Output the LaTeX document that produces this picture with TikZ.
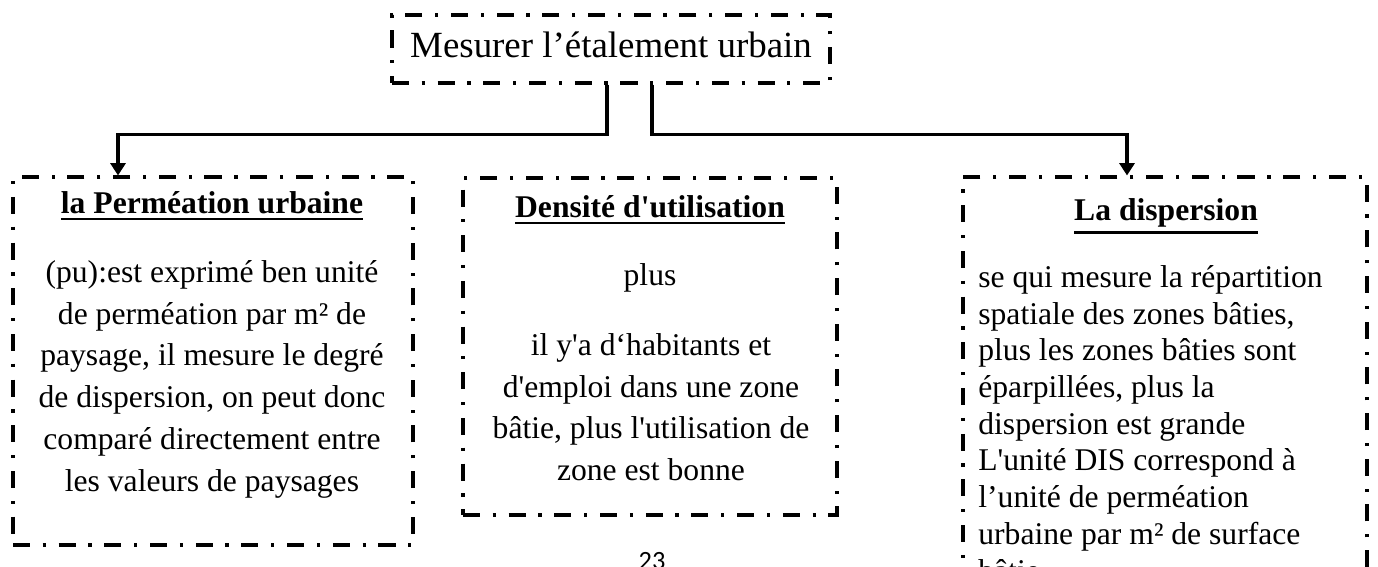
\documentclass[tikz,border=0pt]{standalone}
\usepackage{fontspec}
\setmainfont{Liberation Serif}
\newfontfamily\pagefont{Carlito}
\usepackage{tikz}
\usetikzlibrary{arrows.meta, positioning}
\tikzset{
  frame/.style={draw, line width=1.8pt,
                dash pattern=on 9.7pt off 7.2pt on 1.8pt off 7.3pt,
                inner sep=0pt},
  link/.style={draw, line width=1.8pt},
  arrowlink/.style={link, -{Triangle[length=7pt, width=8.5pt]}},
  heading/.style={font=\fontsize{18}{22}\selectfont\bfseries,
                  anchor=base, inner sep=0pt},
  bodytext/.style={font=\fontsize{18}{23.8}\selectfont, align=center,
                   anchor=north, inner sep=0pt},
}
\newcommand\headul[1]{\leavevmode\vtop{\hbox{#1}\kern2.5pt\hrule height 1.5pt}}
\newcommand\apos{\textquotesingle}

\begin{document}
\begin{tikzpicture}[x=0.02cm, y=-0.02cm]

  %% Page area
  \useasboundingbox (0,0) rectangle (1378,566);
  \fill[white] (0,0) rectangle (1378,566);
  \clip (0,0) rectangle (1378,566);

  %% Title box
  \node[frame, minimum width=8.76cm, minimum height=1.36cm, text depth=0.19cm,
        font=\fontsize{21}{25}\selectfont] (top) at (611,49)
        {Mesurer l’étalement urbain};

  %% Frames
  \node[frame, minimum width=8cm,    minimum height=7.36cm] (perm) at (213,361) {};
  \node[frame, minimum width=7.48cm, minimum height=6.74cm] (dens) at (650,346.5) {};
  \node[frame, minimum width=8.08cm, minimum height=8.86cm] (disp) at (1165,398.5) {};

  %% Connectors
  \draw[arrowlink] ([xshift=-0.08cm]top.south) -- ++(0,50)
                   -| ([xshift=-1.9cm]perm.north);
  \draw[arrowlink] ([xshift=0.82cm]top.south) -- ++(0,50)
                   -| ([xshift=-0.76cm]disp.north);

  %% --- LEFT FRAME ---
  \node[heading] (permT) at (212,213) {\headul{la Perméation urbaine}};
  \node[bodytext] (permB) at (212,260)
    {(pu):est exprimé ben unité\\de perméation par m² de\\paysage, il mesure le degré\\de dispersion, on peut donc\\comparé directement entre\\les valeurs de paysages};

  %% --- MIDDLE FRAME ---
  \node[heading] (densT) at (650,217) {\headul{Densité d\apos utilisation}};
  \node[bodytext, anchor=base] (densP) at (650,285) {plus};
  \node[bodytext] (densB) at (651,333)
    {il y\apos a d‘habitants et\\d\apos emploi dans une zone\\bâtie, plus l\apos utilisation de\\zone est bonne};

  %% --- RIGHT FRAME ---
  \node[heading] (dispT) at (1166,220) {\headul{La dispersion}};
  \node[bodytext, align=left, anchor=north west,
        font=\fontsize{18}{20.9}\selectfont] (dispB) at (978,265)
    {se qui mesure la répartition\\spatiale des zones bâties,\\plus les zones bâties sont\\éparpillées, plus la\\dispersion est grande\\L\apos unité DIS correspond à\\l’unité de perméation\\urbaine par m² de surface\\bâtie};

  %% Page number
  \node[font=\pagefont\fontsize{15}{18}\selectfont, anchor=base, inner sep=0pt]
    (pnum) at (652,569) {23};

\end{tikzpicture}
\end{document}
